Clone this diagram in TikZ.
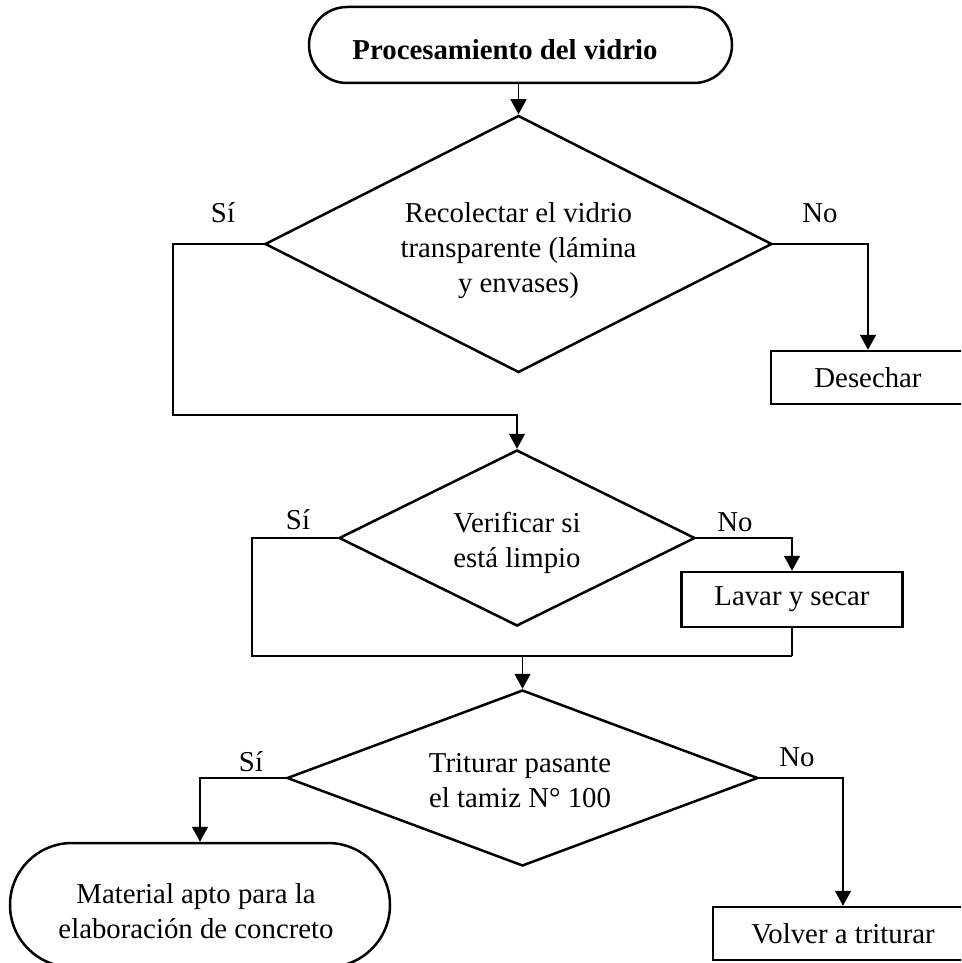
\documentclass[tikz,border=0pt]{standalone}
\usepackage{fontspec}
\setmainfont{Liberation Serif}
\usetikzlibrary{shapes.geometric,arrows.meta}
\begin{document}
\begin{tikzpicture}[x=1pt,y=-1pt,
  every node/.style={font=\fontsize{28.8}{35}\selectfont},
  shapeline/.style={draw=black,line width=2.5pt},
  decision/.style={shapeline,diamond,inner sep=0pt,aspect=2},
  terminal/.style={shapeline,rectangle,inner sep=0pt},
  procbox/.style={shapeline,rectangle,inner sep=0pt,align=center},
  txt/.style={inner sep=0pt,align=center},
  lbl/.style={inner sep=0pt},
  conn/.style={draw=black,line width=1.5pt},
  arr/.style={conn,-{Triangle[width=16pt,length=15pt]}}
]
\clip (0,0) rectangle (961,963);
\fill[white] (0,0) rectangle (961,963);

% nodes
\node[terminal,minimum width=423pt,minimum height=76pt,rounded corners=38pt] (t1) at (520.5,45) {};
\node[txt,font=\fontsize{28.8}{35}\selectfont\bfseries] (t1txt) at (505,50) {Procesamiento del vidrio};

\node[decision,minimum width=507pt,minimum height=257pt] (d1) at (518.5,244) {};
\node[txt] (d1txt) at (518.5,251) {Recolectar el vidrio\\transparente (lámina\\y envases)};
\node[procbox,minimum width=198pt,minimum height=53pt] (des) at (870,377.5) {};
\node[txt] (destxt) at (868,378) {Desechar};

\node[decision,minimum width=356pt,minimum height=176pt] (d2) at (517,538) {};
\node[txt] (d2txt) at (517,543) {Verificar si\\está limpio};
\node[procbox,minimum width=221pt,minimum height=55pt] (lav) at (792,599.5) {Lavar y secar};

\node[decision,minimum width=471pt,minimum height=176pt] (d3) at (522.5,778) {};
\node[txt] (d3txt) at (520,781) {Triturar pasante\\el tamiz N° 100};
\node[terminal,minimum width=380pt,minimum height=124pt,rounded corners=62pt] (t2) at (200,905) {};
\node[txt] (t2txt) at (196,911) {Material apto para la\\elaboración de concreto};
\node[procbox,minimum width=260pt,minimum height=53pt] (vol) at (843,933.5) {Volver a triturar};

% labels
\node[lbl] (s1) at (223,213) {Sí};
\node[lbl] (n1) at (820,213) {No};
\node[lbl] (s2) at (298,520) {Sí};
\node[lbl] (n2) at (735,522) {No};
\node[lbl] (s3) at (251,762) {Sí};
\node[lbl] (n3) at (797,757) {No};

% helper coordinates
\coordinate (c1) at (173,415);
\coordinate (c2) at (252,656);
\coordinate (c3) at (792,656);
\coordinate (c4) at (868,244);

% connectors
\draw[arr] (d1.north |- t1.south) -- (d1.north);
\draw[arr] (d1.west) -| (c1) -| (d2.north);
\draw[arr] (d1.east) -- (c4) -- (c4 |- des.north);
\draw[arr] (d2.east) -| (lav.north);
\draw[conn] (d2.west) -| (c2) -- (c3);
\draw[conn] (lav.south) -- (c3);
\draw[arr] (d3.north |- c2) -- (d3.north);
\draw[arr] (d3.west) -| (t2.north);
\draw[arr] (d3.east) -| (vol.north);
\end{tikzpicture}
\end{document}
